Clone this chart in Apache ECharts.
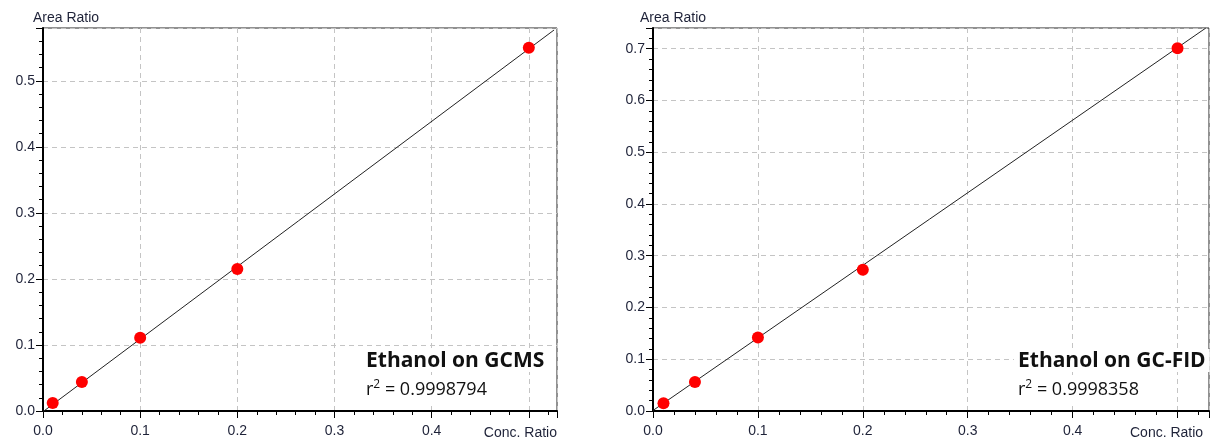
<!DOCTYPE html>
<html>
<head>
<meta charset="utf-8">
<script src="https://cdn.jsdelivr.net/npm/echarts@6/dist/echarts.min.js"></script>
<style>
  html, body { margin: 0; padding: 0; background: #fff; }
  #chart { width: 1212px; height: 438px; }
</style>
</head>
<body>
<div id="chart"></div>
<script>
// calibration points
var concRatio = [0.01, 0.04, 0.1, 0.2, 0.5]
var gcmsArea = [0.012, 0.044, 0.111, 0.215, 0.55]
var fidArea = [0.015, 0.056, 0.142, 0.273, 0.701]

// fitted line end points
var gcmsFitX = [0, 0.526]
var gcmsFitY = [-0.001, 0.577]
var fidFitX = [0, 0.527]
var fidFitY = [0.001, 0.74]

// tick labels
var xTickLabels = ['0.0', '0.1', '0.2', '0.3', '0.4']
var gcmsYTickLabels = ['0.0', '0.1', '0.2', '0.3', '0.4', '0.5']
var fidYTickLabels = ['0.0', '0.1', '0.2', '0.3', '0.4', '0.5', '0.6', '0.7']

var chart = echarts.init(document.getElementById('chart'))

function labelFmt(list) {
  return function (v) {
    var s = v.toFixed(1)
    if (Math.abs(v - parseFloat(s)) > 1e-9) return ''
    return list.indexOf(s) >= 0 ? s : ''
  }
}

function pairs(xs, ys) {
  return xs.map(function (x, i) { return [x, ys[i]] })
}

var labelStyle = { fontFamily: 'Liberation Sans', fontSize: 14, color: '#1e2238' }
var gridLine = { show: true, lineStyle: { color: '#c4c4c4', type: [5, 4], width: 1 } }

function xAxis(idx, max) {
  return {
    type: 'value', gridIndex: idx, min: 0, max: max, interval: 0.1,
    axisLine: { show: true, onZero: false, lineStyle: { color: '#000', width: 2 } },
    axisTick: { show: true, inside: false, length: 7, lineStyle: { color: '#000', width: 1 } },
    minorTick: { show: true, splitNumber: 5, length: 4, lineStyle: { color: '#000', width: 1 } },
    axisLabel: Object.assign({ inside: false, margin: 13, formatter: labelFmt(xTickLabels) }, labelStyle),
    splitLine: gridLine
  }
}

function yAxis(idx, max, list) {
  return {
    type: 'value', gridIndex: idx, min: 0, max: max, interval: 0.1,
    axisLine: { show: true, onZero: false, lineStyle: { color: '#000', width: 2 } },
    axisTick: { show: true, inside: false, length: 7, lineStyle: { color: '#000', width: 1 } },
    minorTick: { show: true, splitNumber: 5, length: 4, lineStyle: { color: '#000', width: 1 } },
    axisLabel: Object.assign({ inside: false, margin: 8, formatter: labelFmt(list) }, labelStyle),
    splitLine: gridLine
  }
}

// white box behind the annotation so the grid lines stop at the text
function annot(x, title, r2) {
  return [
    {
      type: 'text', left: x - 4, top: 349, z: 10,
      style: {
        text: title, fontFamily: 'Open Sans', fontWeight: 'bold', fontSize: 21, fill: '#111',
        backgroundColor: '#fff', padding: [2, 4, 0, 4]
      }
    },
    {
      type: 'text', left: x - 4, top: 379, z: 10,
      style: {
        text: '{r|r}{s|2}{r| = ' + r2 + '}',
        backgroundColor: '#fff', padding: [0, 4, 2, 4],
        rich: {
          r: { fontFamily: 'Open Sans', fontSize: 18, fill: '#111', color: '#111' },
          s: { fontFamily: 'Open Sans', fontSize: 12, fill: '#111', color: '#111', verticalAlign: 'top', padding: [0, 0, 10, 0] }
        }
      }
    }
  ]
}

var axisName = { fontFamily: 'Liberation Sans', fontSize: 14, fill: '#1e2238' }

var option = {
  animation: false,
  grid: [
    { left: 43, top: 28, width: 514, height: 385, show: true, borderColor: '#222', borderWidth: 1, backgroundColor: 'transparent' },
    { left: 653, top: 28, width: 563, height: 385, show: true, borderColor: '#222', borderWidth: 1, backgroundColor: 'transparent' }
  ],
  xAxis: [xAxis(0, 0.529), xAxis(1, 0.53)],
  yAxis: [yAxis(0, 0.58, gcmsYTickLabels), yAxis(1, 0.74, fidYTickLabels)],
  graphic: [
    { type: 'text', left: 33, top: 11, style: Object.assign({ text: 'Area Ratio' }, axisName) },
    { type: 'text', left: 640, top: 11, style: Object.assign({ text: 'Area Ratio' }, axisName) },
    { type: 'text', right: 1212 - 557, top: 426, style: Object.assign({ text: 'Conc. Ratio' }, axisName) },
    { type: 'text', left: 1130, top: 426, style: Object.assign({ text: 'Conc. Ratio' }, axisName) }
  ].concat(annot(366, 'Ethanol on GCMS', '0.9998794'), annot(1018, 'Ethanol on GC-FID', '0.9998358')),
  series: [
    {
      type: 'line', xAxisIndex: 0, yAxisIndex: 0, data: pairs(gcmsFitX, gcmsFitY),
      symbol: 'none', lineStyle: { color: '#222', width: 1 }, z: 3
    },
    {
      type: 'scatter', xAxisIndex: 0, yAxisIndex: 0, data: pairs(concRatio, gcmsArea),
      symbolSize: 12, itemStyle: { color: '#ff0000', opacity: 1 }, z: 4
    },
    {
      type: 'line', xAxisIndex: 1, yAxisIndex: 1, data: pairs(fidFitX, fidFitY),
      symbol: 'none', lineStyle: { color: '#222', width: 1 }, z: 3
    },
    {
      type: 'scatter', xAxisIndex: 1, yAxisIndex: 1, data: pairs(concRatio, fidArea),
      symbolSize: 12, itemStyle: { color: '#ff0000', opacity: 1 }, z: 4
    }
  ]
}

chart.setOption(option)
</script>
</body>
</html>
